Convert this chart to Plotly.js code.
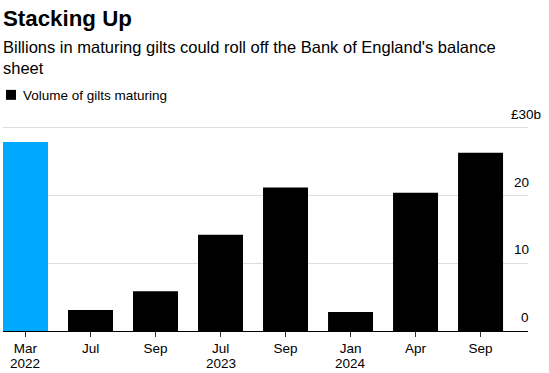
<!DOCTYPE html>
<html>
<head>
<meta charset="utf-8">
<script src="https://cdn.plot.ly/plotly-3.0.1.min.js"></script>
<style>
  html, body { margin: 0; padding: 0; background: #fff; }
  #chart { width: 549px; height: 373px; }
</style>
</head>
<body>
<div id="chart"></div>
<script>
// ---- data ----
const months = ["Mar", "Jul", "Sep", "Jul", "Sep", "Jan", "Apr", "Sep"];
const years  = ["2022", "", "", "2023", "", "2024", "", ""];
const volumes = [27.9, 3.1, 5.85, 14.2, 21.2, 2.8, 20.4, 26.3]; // £ billions
const yTicks = [0, 10, 20, 30];
const yTickText = ["0", "10", "20", "£30b"];
const seriesName = "Volume of gilts maturing";
const titleText = "Stacking Up";
const subtitleText = "Billions in maturing gilts could roll off the Bank of England's balance<br>sheet";

// ---- styling ----
const BLUE = "#00A8FF";
const BLACK = "#000000";
const FONT = "Liberation Sans, Arial, sans-serif";
const SMALL = 13.5;

const idx = months.map((m, i) => i);
const colors = volumes.map((v, i) => i === 0 ? BLUE : BLACK);

const trace = {
  type: "bar",
  x: idx,
  y: volumes,
  name: seriesName,
  marker: { color: colors, line: { width: 0 } },
  width: 0.692,
  hoverinfo: "skip",
  showlegend: false
};

const yAnn = yTicks.map((v, i) => ({
  xref: "paper", yref: "y", x: 1, y: v,
  xanchor: "right", yanchor: "middle",
  xshift: v === 30 ? 15 : 3, yshift: 13.5,
  text: yTickText[i], showarrow: false,
  font: { family: FONT, size: SMALL, color: "#000" }
}));

const yearAnn = idx.filter(i => years[i]).map(i => ({
  xref: "x", yref: "paper", x: i, y: (331 - 356) / 210.5,
  xanchor: "center", yanchor: "top", borderpad: 0, borderwidth: 0,
  text: years[i], showarrow: false,
  font: { family: FONT, size: SMALL, color: "#000" }
}));

const layout = {
  width: 549, height: 373,
  margin: { l: 3, r: 20.7, t: 120.5, b: 42 },
  paper_bgcolor: "#fff", plot_bgcolor: "#fff",
  font: { family: FONT, size: SMALL, color: "#000" },
  title: {
    text: "<b>" + titleText + "</b>",
    xref: "paper", x: 0, xanchor: "left",
    yref: "container", y: 1 - 18 / 373, yanchor: "middle",
    font: { family: FONT, size: 22.3, color: "#000" }
  },
  xaxis: {
    range: [-0.346, 7.73],
    tickmode: "array", tickvals: idx, ticktext: months,
    ticks: "outside", ticklen: 5, tickwidth: 1, tickcolor: "#333",
    showline: true, linecolor: "#000", linewidth: 1,
    showgrid: false, zeroline: false,
    tickfont: { family: FONT, size: SMALL, color: "#000" },
    fixedrange: true
  },
  yaxis: {
    range: [0, 31],
    tickmode: "array", tickvals: [10, 20, 30],
    showticklabels: false, ticks: "",
    showgrid: true, gridcolor: "#dddddd", gridwidth: 1,
    zeroline: false, showline: false,
    fixedrange: true
  },
  annotations: [
    {
      xref: "paper", yref: "paper", x: 0, y: (331 - 57) / 210.5,
      xanchor: "left", yanchor: "middle", align: "left",
      xshift: -2,
      text: subtitleText, showarrow: false,
      font: { family: FONT, size: 16.5, color: "#000" }
    },
    {
      xref: "paper", yref: "paper", x: (22.7 - 3) / 525.3, y: (331 - 95) / 210.5,
      xanchor: "left", yanchor: "middle", xshift: -2,
      text: seriesName, showarrow: false,
      font: { family: FONT, size: SMALL, color: "#000" }
    }
  ].concat(yAnn, yearAnn),
  shapes: [
    {
      type: "rect", xref: "paper", yref: "paper",
      x0: (6 - 3) / 525.3, x1: (16 - 3) / 525.3,
      y0: (331 - 99.3) / 210.5, y1: (331 - 89.3) / 210.5,
      fillcolor: BLACK, line: { width: 0 }
    }
  ],
  bargap: 0.308,
  showlegend: false
};

Plotly.newPlot("chart", [trace], layout, { displayModeBar: false, staticPlot: true });
</script>
</body>
</html>
